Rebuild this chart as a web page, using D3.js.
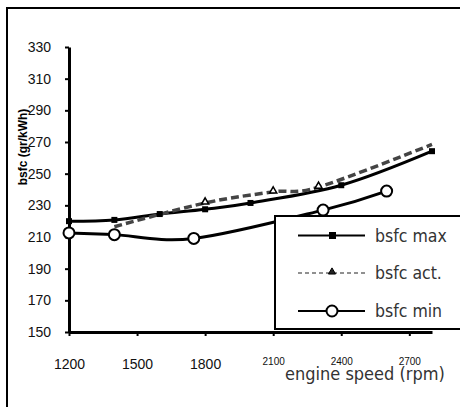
<!DOCTYPE html>
<html>
<head>
<meta charset="utf-8">
<script src="https://cdn.jsdelivr.net/npm/d3@7"></script>
<style>
  body { margin: 0; background: #fff; }
  svg { display: block; }
</style>
</head>
<body>
<div id="chart"></div>
<script>
// values
const maxRpm = [1200, 1400, 1600, 1800, 2000, 2400, 2800];
const maxVal = [220, 220.8, 224.5, 227.5, 231.5, 242.7, 264.2];
const actRpm = [1400, 1800, 2100, 2300, 2800];
const actVal = [216.5, 231.5, 238.5, 241.5, 268.5];
const minRpm = [1200, 1400, 1750, 2320, 2600];
const minVal = [212.6, 211.5, 209.1, 227, 239];
const xTicks = [1200, 1500, 1800, 2100, 2400, 2700];
const yTicks = [150, 170, 190, 210, 230, 250, 270, 290, 310, 330];
const legendNames = ["bsfc max", "bsfc act.", "bsfc min"];

const W = 460, H = 407;
const svg = d3.select("#chart").append("svg").attr("width", W).attr("height", H);

// outer frame (clipped at right and bottom)
svg.append("rect")
  .attr("x", 7).attr("y", 8).attr("width", 480).attr("height", 420)
  .attr("fill", "none").attr("stroke", "#000").attr("stroke-width", 2);

const x = d3.scaleLinear().domain([1200, 2800]).range([69, 432]);
const y = d3.scaleLinear().domain([150, 330]).range([332, 47]);

const gy = svg.append("g")
  .attr("transform", "translate(69,0)")
  .call(d3.axisLeft(y).tickValues(yTicks).tickFormat(d3.format("d"))
    .tickSizeInner(4).tickSizeOuter(0).tickPadding(14));
gy.select(".domain").attr("stroke-width", 3);
gy.selectAll(".tick line").attr("stroke-width", 2);
gy.selectAll(".tick text")
  .style("font-family", "'Liberation Sans', Arial, sans-serif").style("font-size", "14px").attr("fill", "#111");

const gx = svg.append("g")
  .attr("transform", "translate(0,332)")
  .call(d3.axisBottom(x).tickValues(xTicks).tickFormat(d3.format("d"))
    .tickSizeInner(4).tickSizeOuter(0).tickPadding(0));
gx.select(".domain").attr("stroke-width", 3);
gx.selectAll(".tick line").attr("stroke-width", 2);
gx.selectAll(".tick text")
  .style("font-family", "'Liberation Sans', Arial, sans-serif")
  .style("font-size", (d) => (d >= 2100 ? "10px" : "14px"))
  .attr("dy", (d) => (d >= 2100 ? "2.9em" : "2.35em"))
  .attr("fill", "#111");

// axis titles
svg.append("text")
  .attr("transform", "translate(27,147) rotate(-90)")
  .attr("text-anchor", "middle")
  .style("font-family", "'Liberation Sans', Arial, sans-serif")
  .attr("font-weight", "bold").attr("font-size", 12)
  .text("bsfc (gr/kWh)");

svg.append("text")
  .attr("x", 285).attr("y", 380)
  .style("font-family", "'DejaVu Sans Condensed', 'DejaVu Sans', sans-serif")
  .style("font-stretch", "condensed")
  .attr("font-size", 18).attr("fill", "#333")
  .text("engine speed (rpm)");

const line = d3.line().x((d) => x(d[0])).y((d) => y(d[1])).curve(d3.curveCardinal.tension(0));

const maxData = d3.zip(maxRpm, maxVal);
const actData = d3.zip(actRpm, actVal);
const minData = d3.zip(minRpm, minVal);

svg.append("path").datum(maxData).attr("d", line)
  .attr("fill", "none").attr("stroke", "#000").attr("stroke-width", 3);
svg.append("path").datum(actData).attr("d", line)
  .attr("fill", "none").attr("stroke", "#444").attr("stroke-width", 3.5)
  .attr("stroke-dasharray", "8,4");
svg.append("path").datum(minData).attr("d", line)
  .attr("fill", "none").attr("stroke", "#000").attr("stroke-width", 3);

const tri = d3.symbol().type(d3.symbolTriangle).size(22);

svg.selectAll(".sq").data(maxData).enter().append("rect")
  .attr("x", (d) => x(d[0]) - 3).attr("y", (d) => y(d[1]) - 3)
  .attr("width", 6).attr("height", 6).attr("fill", "#000");
svg.selectAll(".tri").data(actData.slice(1, 4)).enter().append("path")
  .attr("d", tri)
  .attr("transform", (d) => `translate(${x(d[0])},${y(d[1]) - 1})`)
  .attr("fill", "#fff").attr("stroke", "#000").attr("stroke-width", 1.5);
svg.selectAll(".circ").data(minData).enter().append("circle")
  .attr("cx", (d) => x(d[0])).attr("cy", (d) => y(d[1])).attr("r", 5.5)
  .attr("fill", "#fff").attr("stroke", "#000").attr("stroke-width", 2);

// legend
const lg = svg.append("g");
lg.append("rect")
  .attr("x", 275).attr("y", 216).attr("width", 220).attr("height", 113)
  .attr("fill", "#fff").attr("stroke", "#000").attr("stroke-width", 2);
const rowsY = [235.5, 273, 311];
legendNames.forEach((name, i) => {
  const ly = rowsY[i];
  const l = lg.append("line").attr("x1", 298).attr("x2", 365).attr("y1", ly).attr("y2", ly)
    .attr("stroke", "#000").attr("stroke-width", i === 1 ? 1.2 : 2);
  if (i === 1) l.attr("stroke-dasharray", "4,3").attr("stroke", "#222");
  if (i === 0) {
    lg.append("rect").attr("x", 329).attr("y", ly - 3.5).attr("width", 7).attr("height", 7).attr("fill", "#000");
  } else if (i === 1) {
    lg.append("path").attr("d", tri).attr("transform", `translate(332,${ly - 1})`)
      .attr("fill", "#222").attr("stroke", "#000").attr("stroke-width", 1);
  } else {
    lg.append("circle").attr("cx", 332).attr("cy", ly).attr("r", 5.5)
      .attr("fill", "#fff").attr("stroke", "#000").attr("stroke-width", 2);
  }
  lg.append("text").attr("x", 375).attr("y", ly + 6)
    .style("font-family", "'DejaVu Sans Condensed', 'DejaVu Sans', sans-serif")
    .style("font-stretch", "condensed")
    .attr("font-size", 17.5).attr("fill", "#333")
    .text(name);
});
</script>
</body>
</html>
